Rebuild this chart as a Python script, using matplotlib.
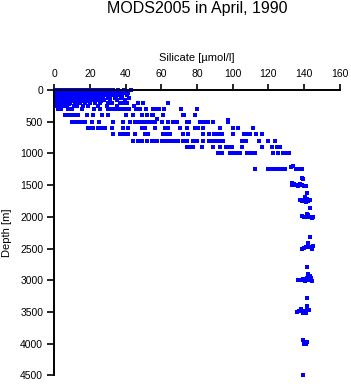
import matplotlib.pyplot as plt

# silicate [umol/l] observed at each standard depth [m]
si_0 = [0.3, 1.1, 1.9, 2.7, 3.5, 4.3, 5.1, 5.9, 6.7, 7.5, 8.3, 9.1, 9.9, 10.7, 11.5, 12.3,
        13.1, 13.9, 14.7, 15.5, 16.3, 17.1, 17.9, 18.7, 20.2, 21.4, 22.6, 24.3, 25.5, 27.0,
        28.8, 30.5, 33.1, 36.0, 39.2, 43.2]
si_20 = [0.5, 1.6, 2.8, 3.9, 5.0, 6.2, 7.4, 8.5, 9.6, 10.8, 12.0, 13.1, 14.2, 15.4, 16.6,
         17.7, 19.0, 20.6, 23.2, 25.0, 26.9, 29.6, 31.8, 34.4, 37.5, 40.1]
si_35 = [0.2, 1.2, 2.3, 3.3, 4.4, 5.6, 6.8, 7.9, 9.1, 10.3, 11.4, 12.6, 13.7, 14.9, 16.1,
         17.2, 18.4, 19.7, 22.0, 24.2]
si_50 = [0.4, 1.5, 2.6, 3.8, 4.9, 6.0, 7.2, 8.3, 9.5, 10.6, 11.8, 12.9, 14.1, 15.2, 16.4,
         17.5, 18.8, 21.1, 22.9, 24.6, 27.7, 29.2, 32.5, 35.7, 38.9, 41.6]
si_60 = [0.3, 1.3, 2.4, 3.5, 4.6, 5.7, 6.9, 8.0, 9.2, 10.3, 11.5, 12.6, 13.8, 15.0, 16.2,
         17.3, 18.6, 20.0]
si_75 = [0.6, 1.8, 3.0, 4.1, 5.3, 6.5, 7.6, 8.8, 10.0, 11.1, 12.3, 13.5, 14.6, 15.8, 17.0,
         18.3, 20.4, 22.3, 25.8, 28.1, 30.9, 33.6, 36.9, 40.7]
si_90 = [0.2, 1.2, 2.3, 3.4, 4.5, 5.6, 6.7, 7.8, 9.0, 10.1, 11.3, 12.4, 13.6, 14.8, 16.0,
         17.3, 19.1, 21.8]
si_100 = [0.3, 1.4, 2.5, 3.7, 4.8, 5.9, 7.1, 8.2, 9.4, 10.5, 11.7, 12.8, 14.0, 15.3, 16.9,
          18.5, 20.9, 23.7, 26.4, 29.9, 31.4, 34.8, 38.1]
si_110 = [0.4, 1.5, 2.6, 3.7, 4.9, 6.0, 7.1, 8.3, 9.5, 10.7, 11.9, 13.0, 14.3, 15.8, 17.4]
si_125 = [0.5, 1.7, 2.9, 4.0, 5.2, 6.3, 7.5, 8.7, 9.9, 11.2, 12.6, 14.1, 15.7, 17.6, 19.8,
          22.4, 24.9, 27.3, 30.2, 33.8, 37.2, 42.0]
si_140 = [0.3, 1.4, 2.5, 3.6, 4.7, 5.8, 7.0, 8.2, 9.4, 10.6, 12.0, 13.4, 15.1]
si_150 = [0.4, 1.6, 2.7, 3.9, 5.1, 6.2, 7.4, 8.6, 9.9, 11.3, 12.7, 14.6, 16.0, 18.2, 21.7,
          24.1, 27.9, 31.0, 35.3, 39.8]
si_175 = [0.3, 1.4, 2.5, 3.6, 4.8, 6.1, 7.5, 9.2, 12.4, 15.8, 19.6, 26.1]
si_200 = [0.5, 1.3, 2.2, 3.2, 4.1, 5.0, 6.0, 8.8, 11.6, 14.4, 17.2, 20.0, 22.8, 25.6, 30.3,
          32.2, 36.8, 38.7, 40.6, 47.1, 49.9, 63.9]
si_225 = [0.4, 1.5, 2.7, 3.9, 5.2, 8.1, 12.2]
si_250 = [0.8, 2.3, 4.2, 5.5, 7.0, 10.8, 13.0, 16.3, 19.1, 24.7, 29.4, 35.0, 44.6]
si_300 = [2.0, 3.5, 7.8, 10.1, 15.3, 22.0, 25.6, 30.3, 31.8, 33.2, 34.6, 36.0, 37.4, 39.6,
          42.0, 46.1, 48.0, 51.2, 55.2, 57.0, 59.0, 61.5, 71.0, 80.0]
si_400 = [6.0, 7.8, 9.7, 11.6, 13.5, 18.2, 21.9, 26.6, 30.3, 40.2, 44.0, 49.0, 51.8, 54.6,
          55.5, 61.1, 72.3, 73.0, 78.9]
si_500 = [9.7, 11.6, 13.5, 15.3, 17.2, 21.0, 25.2, 33.0, 38.7, 42.4, 45.2, 47.1, 49.0, 50.9,
          52.7, 54.6, 56.4, 60.2, 63.9, 66.7, 68.6, 74.2, 75.7, 81.7, 84.0, 86.0, 89.0, 97.4]
si_600 = [19.1, 20.0, 21.9, 24.7, 26.6, 28.4, 32.2, 38.7, 41.5, 49.0, 50.8, 56.4, 62.0, 63.9,
          70.4, 74.2, 78.9, 80.7, 83.5, 92.9, 100.2, 103.0, 111.4]
si_700 = [33.0, 36.8, 38.7, 39.6, 41.5, 45.2, 50.8, 52.7, 61.1, 63.0, 64.9, 72.3, 75.1, 83.5,
          86.7, 89.5, 91.8, 94.0, 100.2, 106.4, 108.0, 109.7, 113.0, 116.4]
si_800 = [44.3, 47.1, 49.0, 51.8, 54.6, 56.0, 57.4, 60.2, 62.0, 63.9, 65.8, 67.7, 69.5, 72.1,
          74.2, 77.7, 79.8, 83.5, 86.7, 88.4, 90.1, 92.3, 94.6, 105.2, 107.5, 114.7, 119.8,
          123.7]
si_900 = [74.4, 75.6, 77.7, 82.8, 89.0, 92.9, 96.3, 97.9, 99.6, 105.2, 116.4, 122.0, 124.8,
          126.5]
si_1000 = [91.8, 94.0, 98.5, 100.2, 102.4, 104.1, 108.0, 109.5, 110.8, 112.5, 122.6, 125.4,
           128.2, 129.3, 131.6]
si_1250 = [112.5, 119.8, 120.8, 122.0, 123.7, 125.4, 126.5, 128.2, 129.3, 135.5, 136.6,
           137.7, 138.8]

levels = [0, 20, 35, 50, 60, 75, 90, 100, 110, 125, 140, 150, 175, 200, 225, 250, 300, 400,
          500, 600, 700, 800, 900, 1000, 1250]
level_si = [si_0, si_20, si_35, si_50, si_60, si_75, si_90, si_100, si_110, si_125, si_140,
            si_150, si_175, si_200, si_225, si_250, si_300, si_400, si_500, si_600, si_700,
            si_800, si_900, si_1000, si_1250]

# scattered single observations (mostly deep casts)
odd_depth = [460, 480, 1200, 1220, 1395, 1410,
             1500, 1490, 1500, 1510, 1480, 1500, 1510, 1520, 1460,
             1630, 1695, 1740, 1750, 1730, 1760, 1750, 1740, 1720, 1860,
             1990, 2000, 2010, 1970, 2000, 2020, 2010, 1950, 2315,
             2500, 2490, 2480, 2440, 2470, 2500, 2460, 2420, 2790,
             3000, 2990, 2980, 3010, 2960, 3000, 2940, 3020, 2910, 2970, 3280,
             3500, 3480, 3460, 3510, 3490, 3440, 3400, 3520, 3470,
             3940, 4000, 4010, 3980, 4500]
odd_si = [57.6, 97.4, 133.8, 132.6, 138.7, 139.4,
          133.2, 134.4, 135.5, 136.6, 137.7, 138.8, 140.0, 141.1, 133.5,
          141.5, 140.5, 137.7, 138.8, 140.0, 141.1, 142.2, 143.3, 142.0, 143.3,
          138.8, 140.0, 141.1, 142.2, 143.3, 144.4, 145.0, 141.6, 143.3,
          138.7, 139.9, 141.0, 142.1, 143.2, 144.3, 145.2, 142.6, 141.7,
          136.6, 138.2, 139.4, 140.6, 141.6, 142.7, 143.3, 144.3, 142.3, 143.8, 141.7,
          135.9, 137.5, 138.5, 139.6, 140.6, 141.7, 142.0, 141.4, 142.8,
          139.4, 140.0, 141.3, 141.8, 139.6]

depth, silicate = [], []
for lev, vals in zip(levels, level_si):
    for v in vals:
        depth.append(lev)
        silicate.append(v)
depth += odd_depth
silicate += odd_si

plt.rcParams['font.family'] = ['Liberation Sans', 'DejaVu Sans']

fig = plt.figure(figsize=(3.51, 3.84), dpi=100)
ax = fig.add_axes([54.3 / 351, 1 - 375.3 / 384, 285.2 / 351, 285.3 / 384])

ax.plot(silicate, depth, 's', color='#0000ff', markersize=2.3, markeredgewidth=0,
        antialiased=False, clip_on=False)

ax.set_xlim(0, 160)
ax.set_ylim(4500, 0)
ax.set_xticks(range(0, 161, 20))
ax.set_yticks(range(0, 4501, 500))
ax.xaxis.tick_top()
ax.xaxis.set_label_position('top')
ax.spines['right'].set_visible(False)
ax.spines['bottom'].set_visible(False)
for s in ['left', 'top']:
    ax.spines[s].set_linewidth(1.4)
ax.tick_params(axis='x', direction='out', length=4, width=1.2, pad=4, labelsize=7.5)
ax.tick_params(axis='y', direction='out', length=5, width=1.2, pad=3, labelsize=7.5)

ax.set_xlabel('Silicate [µmol/l]', fontsize=8, labelpad=6)
ax.set_ylabel('Depth [m]', fontsize=8)
ax.yaxis.set_label_coords(-0.148, 0.5)

fig.text(196.8 / 351, 1 - 8 / 384, 'MODS2005 in April, 1990', ha='center', va='center',
         fontsize=11.5)

fig.savefig('out.png', dpi=100)
